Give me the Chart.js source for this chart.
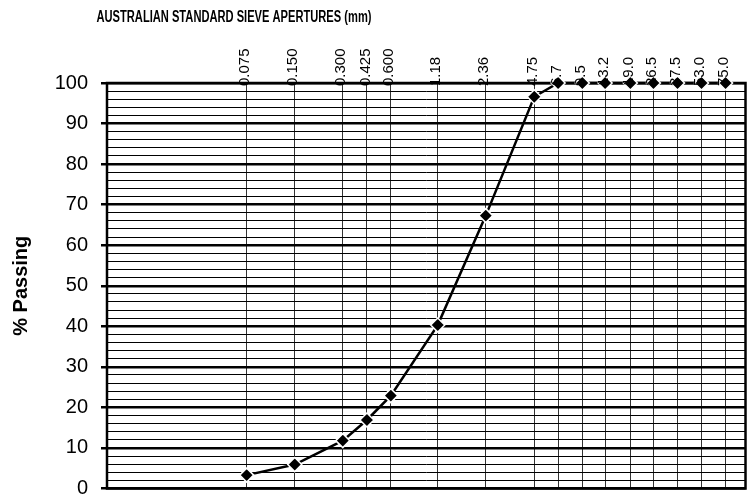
<!DOCTYPE html>
<html>
<head>
<meta charset="utf-8">
<script src="https://cdn.jsdelivr.net/npm/chart.js@4/dist/chart.umd.min.js"></script>
<style>
  html, body { margin: 0; padding: 0; background: #fff; }
  #wrap { width: 754px; height: 497px; }
</style>
</head>
<body>
<div id="wrap"><canvas id="grading_chart" width="754" height="497"></canvas></div>
<script>
const sieve_sizes = [0.075, 0.15, 0.3, 0.425, 0.6, 1.18, 2.36, 4.75, 6.7, 9.5, 13.2, 19.0, 26.5, 37.5, 53.0, 75.0];
const sieve_labels = ["0.075", "0.150", "0.300", "0.425", "0.600", "1.18", "2.36", "4.75", "6.7", "9.5", "13.2", "19.0", "26.5", "37.5", "53.0", "75.0"];
const percent_passing = [3.3, 5.9, 11.8, 16.9, 22.9, 40.3, 67.3, 96.6, 100, 100, 100, 100, 100, 100, 100, 100];

const grading_points = [];
sieve_sizes.forEach((s, i) => {
  grading_points.push({ x: s, y: percent_passing[i] });
});

// thick frame, sieve labels along the top edge and the narrow bold title
const frame_plugin = {
  id: "frame",
  beforeDatasetsDraw(chart) {
    const a = chart.chartArea;
    const c = chart.ctx;
    c.save();
    c.strokeStyle = "#000";
    c.lineWidth = 2.5;
    c.strokeRect(a.left, a.top, a.right - a.left, a.bottom - a.top);
    c.restore();
  },
  afterDraw(chart) {
    const c = chart.ctx;
    const a = chart.chartArea;
    const xs = chart.scales.x;

    c.save();
    c.fillStyle = "#000";
    c.font = "15px Arial, 'Liberation Sans', sans-serif";
    c.textAlign = "left";
    c.textBaseline = "middle";
    sieve_sizes.forEach((s, i) => {
      c.save();
      c.translate(xs.getPixelForValue(s) - 1.5, a.top + 3);
      c.rotate(-Math.PI / 2);
      c.fillText(sieve_labels[i], 0, 0);
      c.restore();
    });

    const txt = "AUSTRALIAN STANDARD SIEVE APERTURES (mm)";
    c.font = "bold 16px Arial, 'Liberation Sans', sans-serif";
    c.textAlign = "center";
    const w = c.measureText(txt).width;
    c.translate(234, 18);
    c.scale(275 / w, 1);
    c.fillText(txt, 0, 0);
    c.restore();
  },
};

function sieve_ticks(scale) {
  scale.ticks = sieve_sizes.map((v) => ({ value: v }));
}

const grading_config = {
  type: "line",
  data: {
    datasets: [
      {
        data: grading_points,
        borderColor: "#000",
        borderWidth: 2.5,
        tension: 0,
        pointStyle: "rectRot",
        pointRadius: 7,
        pointBackgroundColor: "#000",
        pointBorderColor: "#fff",
        pointBorderWidth: 1.5,
        clip: false,
      },
    ],
  },
  options: {
    responsive: false,
    animation: false,
    layout: { padding: { top: 83, right: 7, bottom: 6, left: 0 } },
    plugins: {
      legend: { display: false },
      tooltip: { enabled: false },
    },
    scales: {
      x: {
        type: "logarithmic",
        position: "bottom",
        min: 0.01,
        max: 100,
        afterBuildTicks: sieve_ticks,
        afterFit: (scale) => { scale.height = 0; },
        ticks: { display: false },
        grid: { color: "#333", lineWidth: 1, drawTicks: false },
        border: { display: false },
      },
      y: {
        min: 0,
        max: 100,
        afterFit: (scale) => {
          scale.width = 107;
          scale.paddingTop = 0;
          scale.paddingBottom = 0;
        },
        ticks: {
          stepSize: 2,
          autoSkip: false,
          padding: 13,
          color: "#000",
          font: { family: "Arial, 'Liberation Sans', sans-serif", size: 20 },
          callback: (v) => (v % 10 === 0 ? v : ""),
        },
        grid: {
          color: "#000",
          lineWidth: (ctx) => (ctx.tick && ctx.tick.value % 10 === 0 ? 2.5 : 1),
          tickLength: 6,
          tickColor: (ctx) => (ctx.tick && ctx.tick.value % 10 === 0 ? "#000" : "rgba(0,0,0,0)"),
        },
        border: { display: false },
        title: {
          display: true,
          text: "% Passing",
          color: "#000",
          font: { family: "Arial, 'Liberation Sans', sans-serif", size: 20, weight: "bold" },
          padding: { top: 9, bottom: 0 },
        },
      },
    },
  },
  plugins: [frame_plugin],
};

const grading_chart = new Chart(document.getElementById("grading_chart"), grading_config);
</script>
</body>
</html>
